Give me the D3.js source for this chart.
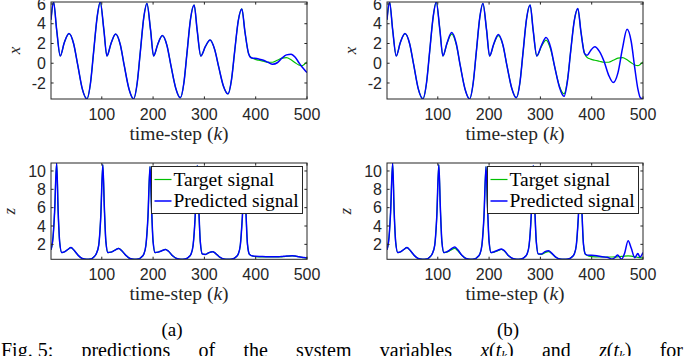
<!DOCTYPE html>
<html>
<head>
<meta charset="utf-8">
<script src="https://cdn.jsdelivr.net/npm/d3@7"></script>
<style>
  body { margin: 0; background: #fff; }
  svg { display: block; }
</style>
</head>
<body>
<svg id="fig" width="684" height="356"></svg>
<script>
// ---- data ----
// time steps used for the x(t) traces
const kX = [1, 6, 12, 19, 27, 36, 45, 53, 62, 71, 78, 84, 91, 97,
  104, 110, 118, 127, 136, 144, 153, 162, 169, 175, 182, 188,
  195, 201, 209, 218, 227, 235, 244, 253, 260, 266, 273, 280,
  286, 293, 302, 311, 320, 328, 337, 346, 353, 359, 366, 373,
  379, 386, 391, 398, 406, 415, 424, 433, 442, 451, 460, 469,
  477, 484, 490, 495, 500];

const xTarget = [4.4, 6.2, 3.4, 0.74, 2.1, 3.0, 2.0, -0.15, -2.6, -3.6, -2.0, 1.1, 4.7, 6.2,
  3.4, 0.74, 2.0, 2.95, 1.9, -0.3, -2.6, -3.6, -2.0, 1.1, 4.7, 6.05,
  3.4, 0.74, 1.9, 2.8, 1.8, -0.3, -2.5, -3.5, -2.0, 1.0, 4.5, 5.9,
  3.3, 0.74, 1.7, 2.35, 1.4, -0.4, -2.3, -3.1, -1.6, 1.2, 4.3, 5.5,
  3.2, 1.0, 0.6, 0.42, 0.3, 0.2, 0.1, 0.1, 0.3, 0.52, 0.57, 0.35,
  0.05, -0.18, -0.25, -0.1, 0.12];

const xPredA = [4.4, 6.2, 3.4, 0.74, 2.1, 3.0, 2.0, -0.15, -2.6, -3.6, -2.0, 1.1, 4.7, 6.2,
  3.4, 0.74, 2.0, 2.95, 1.9, -0.3, -2.6, -3.6, -2.0, 1.1, 4.7, 6.05,
  3.4, 0.74, 1.9, 2.8, 1.8, -0.3, -2.5, -3.5, -2.0, 1.0, 4.5, 5.9,
  3.3, 0.74, 1.7, 2.35, 1.4, -0.4, -2.3, -3.1, -1.6, 1.2, 4.3, 5.5,
  3.2, 1.0, 0.55, 0.5, 0.42, 0.3, 0.1, -0.1, 0.05, 0.5, 0.85, 0.92,
  0.6, 0.08, -0.35, -0.65, -0.95];

const xPredB = [4.4, 6.2, 3.4, 0.74, 2.1, 3.0, 2.0, -0.15, -2.6, -3.6, -2.0, 1.1, 4.7, 6.2,
  3.4, 0.74, 2.05, 3.1, 2.0, -0.3, -2.6, -3.6, -2.0, 1.1, 4.7, 6.05,
  3.4, 0.74, 1.95, 2.9, 1.85, -0.3, -2.5, -3.5, -2.0, 1.0, 4.5, 5.9,
  3.3, 0.74, 1.8, 2.6, 1.6, -0.4, -2.4, -3.35, -1.7, 1.2, 4.3, 5.55,
  3.2, 1.0, 0.8, 1.3, 1.68, 1.2, 0.2, -1.2, -1.96, -1.0, 1.5, 3.43,
  2.2, -0.5, -2.6, -3.5, -3.6];

// time steps used for the z(t) traces
const kZ = [1, 5, 8, 12, 15, 18, 22, 28, 34, 40, 46, 54, 62, 70, 78, 84, 89,
  94, 98, 102, 105, 108, 112, 118, 125, 133, 139, 147, 155, 163, 171, 177, 182,
  186, 190, 194, 197, 200, 204, 210, 217, 224, 230, 238, 246, 254, 262, 269, 274,
  278, 282, 286, 289, 292, 296, 302, 309, 316, 322, 330, 338, 346, 354, 361, 366,
  370, 374, 378, 381, 384, 388, 395, 400, 410, 420, 430, 440, 446, 450, 454, 458,
  464, 471, 477, 484, 490, 494, 500];

const zTarget = [1.4, 2.8, 5.5, 10.87, 5.5, 2.2, 1.1, 1.2, 1.45, 1.65, 1.35, 0.8, 0.45, 0.37, 0.4, 0.6, 0.95,
  1.9, 5.0, 10.7, 6.0, 2.3, 1.1, 1.15, 1.35, 1.56, 1.3, 0.8, 0.45, 0.37, 0.4, 0.6, 0.95,
  1.9, 5.0, 10.5, 6.0, 2.3, 1.1, 1.15, 1.3, 1.45, 1.25, 0.75, 0.45, 0.37, 0.4, 0.6, 0.95,
  1.9, 5.0, 10.6, 6.0, 2.3, 0.95, 0.9, 1.1, 1.2, 1.0, 0.6, 0.4, 0.37, 0.4, 0.6, 0.95,
  1.9, 5.0, 9.6, 5.5, 2.0, 0.9, 0.7, 0.66, 0.64, 0.62, 0.62, 0.62, 0.63, 0.64, 0.66, 0.68,
  0.72, 0.74, 0.72, 0.65, 0.58, 0.55, 0.5];

const zPredA = [1.4, 2.8, 5.5, 10.87, 5.5, 2.2, 1.1, 1.2, 1.45, 1.65, 1.35, 0.8, 0.45, 0.37, 0.4, 0.6, 0.95,
  1.9, 5.0, 10.7, 6.0, 2.3, 1.1, 1.15, 1.35, 1.56, 1.3, 0.8, 0.45, 0.37, 0.4, 0.6, 0.95,
  1.9, 5.0, 10.5, 6.0, 2.3, 1.1, 1.15, 1.3, 1.45, 1.25, 0.75, 0.45, 0.37, 0.4, 0.6, 0.95,
  1.9, 5.0, 10.6, 6.0, 2.3, 0.95, 0.9, 1.1, 1.2, 1.0, 0.6, 0.4, 0.37, 0.4, 0.6, 0.95,
  1.9, 5.0, 9.6, 5.5, 2.0, 0.9, 0.72, 0.7, 0.68, 0.66, 0.65, 0.65, 0.66, 0.67, 0.69, 0.71,
  0.74, 0.76, 0.73, 0.66, 0.6, 0.56, 0.5];

const zPredB = [1.4, 2.8, 5.5, 10.87, 5.5, 2.2, 1.1, 1.2, 1.45, 1.65, 1.35, 0.8, 0.45, 0.37, 0.4, 0.6, 0.95,
  1.9, 5.0, 10.7, 6.0, 2.3, 1.1, 1.2, 1.45, 1.72, 1.4, 0.8, 0.45, 0.37, 0.4, 0.6, 0.95,
  1.9, 5.0, 10.5, 6.0, 2.3, 1.1, 1.2, 1.35, 1.5, 1.3, 0.75, 0.45, 0.37, 0.4, 0.6, 0.95,
  1.9, 5.0, 10.6, 6.0, 2.3, 0.95, 0.95, 1.2, 1.3, 1.05, 0.6, 0.4, 0.37, 0.4, 0.6, 0.95,
  1.9, 5.0, 9.6, 5.5, 2.0, 0.9, 0.8, 0.8, 0.75, 0.65, 0.6, 0.4, 0.6, 0.84, 0.65, 0.37,
  1.0, 2.4, 1.6, 0.55, 1.0, 0.6, 1.1];

const xTicks = [100, 200, 300, 400, 500];
const xSigTicks = [-2, 0, 2, 4, 6];
const zSigTicks = [2, 4, 6, 8, 10];
const legendLabels = ["Target signal", "Predicted signal"];
const panelLabels = ["(a)", "(b)"];
// caption words; "x_k"/"z_k" mean x(t_k) / z(t_k)
const captionWords = ["Fig. 5:", "predictions", "of", "the", "system", "variables", "x_k", "and", "z_k", "for"];

// ---- drawing ----
const svg = d3.select("#fig");
const GREEN = "#00c000", BLUE = "#0000ff", AXC = "#262626";
const TICK_FONT = "'Liberation Sans', Arial, sans-serif";
const SERIF = "'Liberation Serif', 'Times New Roman', serif";

function drawAxes(box, kDom, yDom, yTicks, yName, series, withLegend) {
  const g = svg.append("g");
  const x = d3.scaleLinear().domain(kDom).range([box.left, box.right]);
  const y = d3.scaleLinear().domain(yDom).range([box.bottom, box.top]);

  const clipId = "clip" + Math.round(box.left) + "_" + Math.round(box.top);
  g.append("clipPath").attr("id", clipId).append("rect")
    .attr("x", box.left).attr("y", box.top)
    .attr("width", box.right - box.left).attr("height", box.bottom - box.top);

  const line = d3.line().curve(d3.curveMonotoneX)
    .x(d => x(d[0])).y(d => y(d[1]));

  series.forEach(s => {
    g.append("path")
      .attr("clip-path", "url(#" + clipId + ")")
      .attr("d", line(s.k.map((k, i) => [k, s.v[i]])))
      .attr("fill", "none")
      .attr("stroke", s.color)
      .attr("stroke-width", s.width)
      .attr("stroke-linejoin", "round");
  });

  // frame (box on) with inward ticks on all four sides
  g.append("rect")
    .attr("x", box.left).attr("y", box.top)
    .attr("width", box.right - box.left).attr("height", box.bottom - box.top)
    .attr("fill", "none").attr("stroke", AXC).attr("stroke-width", 1);

  const tl = 2.6;
  xTicks.forEach(t => {
    const px = x(t);
    g.append("line").attr("x1", px).attr("x2", px).attr("y1", box.bottom).attr("y2", box.bottom - tl)
      .attr("stroke", AXC);
    g.append("line").attr("x1", px).attr("x2", px).attr("y1", box.top).attr("y2", box.top + tl)
      .attr("stroke", AXC);
    g.append("text").attr("x", px).attr("y", box.bottom + 21)
      .attr("text-anchor", "middle").attr("font-family", TICK_FONT)
      .attr("font-size", 16).attr("fill", AXC).text(t);
  });
  yTicks.forEach(t => {
    const py = y(t);
    g.append("line").attr("x1", box.left).attr("x2", box.left + tl).attr("y1", py).attr("y2", py)
      .attr("stroke", AXC);
    g.append("line").attr("x1", box.right).attr("x2", box.right - tl).attr("y1", py).attr("y2", py)
      .attr("stroke", AXC);
    g.append("text").attr("x", box.left - 5).attr("y", py + 5.6)
      .attr("text-anchor", "end").attr("font-family", TICK_FONT)
      .attr("font-size", 16).attr("fill", AXC).text(t);
  });

  // axis labels
  const xl = g.append("text")
    .attr("x", (box.left + box.right) / 2).attr("y", box.bottom + 41)
    .attr("text-anchor", "middle").attr("font-family", SERIF)
    .attr("font-size", 19.5).attr("fill", AXC);
  xl.append("tspan").text("time-step (");
  xl.append("tspan").attr("font-style", "italic").text("k");
  xl.append("tspan").text(")");

  g.append("text")
    .attr("transform", "translate(" + yName.x + "," + ((box.top + box.bottom) / 2) + ") rotate(-90)")
    .attr("text-anchor", "middle").attr("font-family", SERIF).attr("font-style", "italic")
    .attr("font-size", 17).attr("fill", AXC).text(yName.text);

  if (withLegend) {
    const lw = 151, lh = 47;
    const lx = box.right - 4.5 - lw, ly = box.top + 3.5;
    const lg = g.append("g");
    lg.append("rect").attr("x", lx).attr("y", ly).attr("width", lw).attr("height", lh)
      .attr("fill", "#fff").attr("stroke", AXC).attr("stroke-width", 1);
    series.forEach((s, i) => {
      const cy = ly + 13 + i * 21.5;
      lg.append("line").attr("x1", lx + 3).attr("x2", lx + 20).attr("y1", cy).attr("y2", cy)
        .attr("stroke", s.color).attr("stroke-width", s.width);
      lg.append("text").attr("x", lx + 22).attr("y", cy + 6)
        .attr("font-family", SERIF).attr("font-size", 19.5).attr("fill", "#000")
        .text(legendLabels[i]);
    });
  }
}

const cols = [{ left: 51, right: 307 }, { left: 387, right: 643 }];
const predX = [xPredA, xPredB];
const predZ = [zPredA, zPredB];

cols.forEach((c, i) => {
  drawAxes({ left: c.left, right: c.right, top: 2, bottom: 99 },
    [1, 500], [-3.62, 6.2], xSigTicks, { text: "x", x: c.left - 31 },
    [{ k: kX, v: xTarget, color: GREEN, width: 1.2 },
     { k: kX, v: predX[i], color: BLUE, width: 1.5 }], false);

  drawAxes({ left: c.left, right: c.right, top: 163, bottom: 259.3 },
    [1, 500], [0.37, 10.87], zSigTicks, { text: "z", x: c.left - 36 },
    [{ k: kZ, v: zTarget, color: GREEN, width: 1.2 },
     { k: kZ, v: predZ[i], color: BLUE, width: 1.5 }], true);

  svg.append("text").attr("x", (c.left + c.right) / 2 - 7).attr("y", 336)
    .attr("text-anchor", "middle").attr("font-family", SERIF)
    .attr("font-size", 19).attr("fill", "#000").text(panelLabels[i]);
});

// caption line, cut by the bottom edge like in the source image; words justified
const capWords = captionWords.map(w => {
  const t = svg.append("text").attr("y", 357)
    .attr("font-family", SERIF).attr("font-size", 20).attr("fill", "#000");
  if (w.endsWith("_k")) {
    t.append("tspan").attr("font-style", "italic").text(w[0]);
    t.append("tspan").text("(");
    t.append("tspan").attr("font-style", "italic").text("t");
    t.append("tspan").attr("font-style", "italic").attr("font-size", 13).attr("dy", 3).text("k");
    t.append("tspan").attr("dy", -3).text(")");
  } else {
    t.text(w);
  }
  return t;
});
const widths = capWords.map(t => t.node().getComputedTextLength());
const gap = (682 - d3.sum(widths)) / (capWords.length - 1);
let cx = 1;
capWords.forEach((t, i) => { t.attr("x", cx); cx += widths[i] + gap; });
</script>
</body>
</html>
